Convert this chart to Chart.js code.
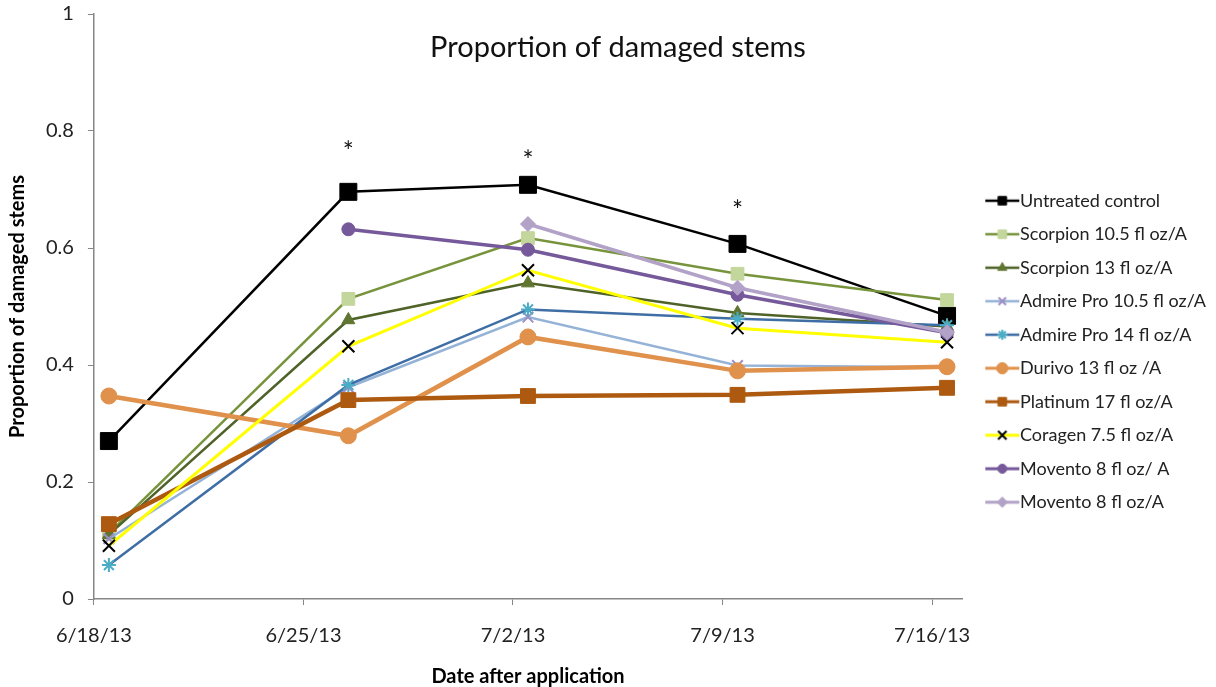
<!DOCTYPE html>
<html>
<head>
<meta charset="utf-8">
<title>Proportion of damaged stems</title>
<script src="https://cdn.jsdelivr.net/npm/chart.js@4.4.1/dist/chart.umd.min.js"></script>
<style>
  html, body { margin: 0; padding: 0; background: #fff; }
  #wrap { width: 1216px; height: 687px; }
</style>
</head>
<body>
<div id="wrap"><canvas id="chart" width="1216" height="687"></canvas></div>
<script>
// sample dates and axis ticks
const sampleDates = ['6/18/13', '6/26/13', '7/2/13', '7/9/13', '7/16/13'];
const tickDates = ['6/18/13', '6/25/13', '7/2/13', '7/9/13', '7/16/13'];
const axisEndDate = '7/17/13';
const yTickLabels = ['0', '0.2', '0.4', '0.6', '0.8', '1'];

// proportion of damaged stems per treatment
const untreated = [0.270, 0.696, 0.708, 0.607, 0.484];
const scorpion105 = [0.112, 0.513, 0.617, 0.556, 0.511];
const scorpion13 = [0.110, 0.477, 0.540, 0.489, 0.466];
const admire105 = [0.103, 0.362, 0.482, 0.399, 0.396];
const admire14 = [0.058, 0.366, 0.495, 0.479, 0.468];
const durivo = [0.347, 0.279, 0.448, 0.390, 0.397];
const platinum = [0.128, 0.340, 0.347, 0.349, 0.361];
const coragen = [0.091, 0.432, 0.562, 0.463, 0.439];
const movento = [null, 0.632, 0.597, 0.520, 0.455];
const moventoB = [null, null, 0.641, 0.532, 0.456];

// significance asterisks
const starDates = ['6/26/13', '7/2/13', '7/9/13'];
const starValues = [0.771, 0.757, 0.670];

const FONT = 'Lato';
const TEXT = '#222';

function dayNum(s) {
  const [m, d, y] = s.split('/').map(Number);
  return Date.UTC(2000 + y, m - 1, d) / 86400000;
}
const day0 = dayNum(tickDates[0]);
// Excel date axis puts each point in the middle of its day
const pointX = (s) => dayNum(s) - day0 + 0.5;

function series(values) {
  return values.map((v, i) => ({ x: pointX(sampleDates[i]), y: v }));
}

function line(label, values, color, width, style, radius, fill, border, borderW) {
  return {
    label: label,
    data: series(values),
    borderColor: color,
    borderWidth: width,
    pointStyle: style,
    pointRadius: radius,
    pointHoverRadius: radius,
    pointBackgroundColor: fill,
    pointBorderColor: border,
    pointBorderWidth: borderW,
    tension: 0,
    fill: false
  };
}

const datasets = [
  line('Untreated control', untreated, '#000000', 2.5, 'rect', 12, '#000000', '#000000', 1),
  line('Scorpion 10.5 fl oz/A', scorpion105, '#77933c', 2.5, 'rect', 9, '#c3d69b', '#c3d69b', 1),
  line('Scorpion 13 fl oz/A', scorpion13, '#4f6228', 2.5, 'triangle', 7.5, '#5f7530', '#5f7530', 1),
  line('Admire Pro 10.5 fl oz/A', admire105, '#95b3d7', 2.5, 'crossRot', 7.5, '#9d8ec4', '#9d8ec4', 2),
  line('Admire Pro 14 fl oz/A', admire14, '#3f6ea5', 2.5, 'star', 7, '#4bacc6', '#4bacc6', 2),
  line('Durivo 13 fl oz /A', durivo, '#e0914c', 4.5, 'circle', 8, '#e0914c', '#e0914c', 1),
  line('Platinum 17 fl oz/A', platinum, '#ad5a10', 4.5, 'rect', 10.5, '#ad5a10', '#ad5a10', 1),
  line('Coragen 7.5 fl oz/A', coragen, '#ffff00', 3, 'crossRot', 8.5, '#000000', '#000000', 2),
  line('Movento 8 fl oz/ A', movento, '#76599a', 3.5, 'circle', 6.5, '#76599a', '#76599a', 1),
  line('Movento 8 fl oz/A', moventoB, '#b3a2c7', 3.5, 'rectRot', 7.5, '#b3a2c7', '#b3a2c7', 1)
];
// later series sit on top, like the original
datasets.forEach((d, i) => { d.order = datasets.length - i; });

// legend sample: line with the marker, placed in the right part of a wider image
function legendIcon(ds) {
  const c = document.createElement('canvas');
  c.width = 52;
  c.height = 18;
  const g = c.getContext('2d');
  g.strokeStyle = ds.borderColor;
  g.lineWidth = Math.min(ds.borderWidth, 3);
  g.beginPath();
  g.moveTo(17, 9);
  g.lineTo(51, 9);
  g.stroke();
  g.fillStyle = ds.pointBackgroundColor;
  g.strokeStyle = ds.pointBorderColor;
  g.lineWidth = ds.pointBorderWidth;
  Chart.helpers.drawPoint(g, {
    pointStyle: ds.pointStyle,
    radius: Math.min(ds.pointRadius * 0.7, 6),
    rotation: 0,
    borderWidth: ds.pointBorderWidth
  }, 34, 9);
  return c;
}

const overlay = {
  id: 'overlay',
  afterDatasetsDraw(chart) {
    const { ctx, scales: { x, y } } = chart;
    ctx.save();
    ctx.fillStyle = '#111';
    ctx.textAlign = 'center';
    ctx.textBaseline = 'middle';
    ctx.font = '29px ' + FONT;
    ctx.fillText('Proportion of damaged stems', chart.width / 2 + 10, 48);
    ctx.font = '26px ' + FONT;
    starDates.forEach((d, i) => {
      ctx.fillText('*', x.getPixelForValue(pointX(d)), y.getPixelForValue(starValues[i]) + 5);
    });
    ctx.restore();
  }
};

const axisColor = '#868686';

new Chart(document.getElementById('chart').getContext('2d'), {
  type: 'line',
  data: { datasets: datasets },
  options: {
    responsive: false,
    animation: false,
    layout: { padding: { left: 6, top: 2, right: 0, bottom: 0 } },
    plugins: {
      tooltip: { enabled: false },
      legend: {
        position: 'right',
        title: { display: true, text: ' ', font: { size: 10 }, padding: 1 },
        labels: {
          usePointStyle: true,
          pointStyleWidth: 33.5,
          padding: 15.5,
          color: TEXT,
          font: { family: FONT, size: 18 },
          sort: (a, b) => a.datasetIndex - b.datasetIndex,
          generateLabels(chart) {
            const items = Chart.defaults.plugins.legend.labels.generateLabels(chart);
            items.forEach((it) => {
              it.pointStyle = legendIcon(chart.data.datasets[it.datasetIndex]);
            });
            return items;
          }
        }
      }
    },
    scales: {
      x: {
        type: 'linear',
        min: 0,
        max: dayNum(axisEndDate) - day0,
        afterBuildTicks(scale) {
          scale.ticks = tickDates.map((d) => ({ value: dayNum(d) - day0 }));
        },
        ticks: {
          autoSkip: false,
          maxRotation: 0,
          padding: 21,
          color: TEXT,
          font: { family: FONT, size: 20, lineHeight: 1 },
          callback: (v, i) => tickDates[i]
        },
        grid: { drawOnChartArea: false, drawTicks: true, tickLength: 6, color: axisColor },
        border: { color: axisColor, width: 1.5 },
        title: {
          display: true,
          text: 'Date after application',
          color: '#000',
          font: { family: FONT, size: 20, weight: 'bold', lineHeight: 1 },
          padding: { top: 0, bottom: 0 }
        }
      },
      y: {
        min: 0,
        max: 1,
        ticks: {
          stepSize: 0.2,
          padding: 14,
          color: TEXT,
          font: { family: FONT, size: 20, lineHeight: 0 },
          callback: (v, i) => yTickLabels[i]
        },
        grid: { drawOnChartArea: false, drawTicks: true, tickLength: 6, color: axisColor },
        border: { color: axisColor, width: 1.5 },
        title: {
          display: true,
          text: 'Proportion of damaged stems',
          color: '#000',
          font: { family: FONT, size: 20, weight: 'bold' },
          padding: { top: 0, bottom: 2 }
        }
      }
    }
  },
  plugins: [overlay]
});
</script>
</body>
</html>
